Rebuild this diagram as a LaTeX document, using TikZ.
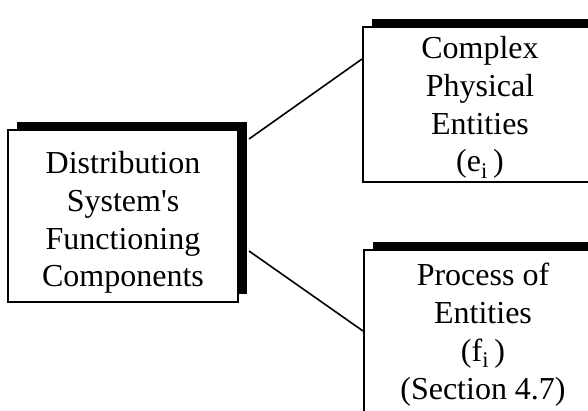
\documentclass[tikz,border=0pt]{standalone}
\usepackage{fontspec}
\setmainfont{Liberation Serif}
\usetikzlibrary{calc,shadows}
\begin{document}
\begin{tikzpicture}[x=1pt,y=-1pt,
  panel/.style={draw=black, line width=2pt, fill=white, inner sep=0pt,
    general shadow={fill=black, shadow xshift=9pt, shadow yshift=8pt}},
  caption/.style={align=center, inner sep=0pt, anchor=north,
    font=\fontsize{32}{37.8}\selectfont},
  link/.style={draw=black, line width=1.6pt}]
\useasboundingbox (0,0) rectangle (588,411);
% component boxes
\node[panel, minimum width=230pt, minimum height=172pt] (L) at (123,216) {};
\node[panel, minimum width=236pt, minimum height=155pt] (T) at (481,104.5) {};
\node[panel, minimum width=236pt, minimum height=190pt] (B) at (482,345) {};
% box labels
\node[caption] (Ltext) at (123,151) {Distribution\\System\textquotesingle s\\Functioning\\Components};
\node[caption] (Ttext) at (480,36) {Complex\\Physical\\Entities\\(e\textsubscript{i}\,)};
\node[caption] (Btext) at (483,263) {Process of\\Entities\\(f\textsubscript{i}\,)\\(Section 4.7)};
% connectors
\draw[link] ($(L.north east)+(10,10)$) -- ($(T.north west)+(0,33)$);
\draw[link] ($(L.south east)+(10,-52)$) -- ($(B.north west)+(0,82)$);
\end{tikzpicture}
\end{document}
